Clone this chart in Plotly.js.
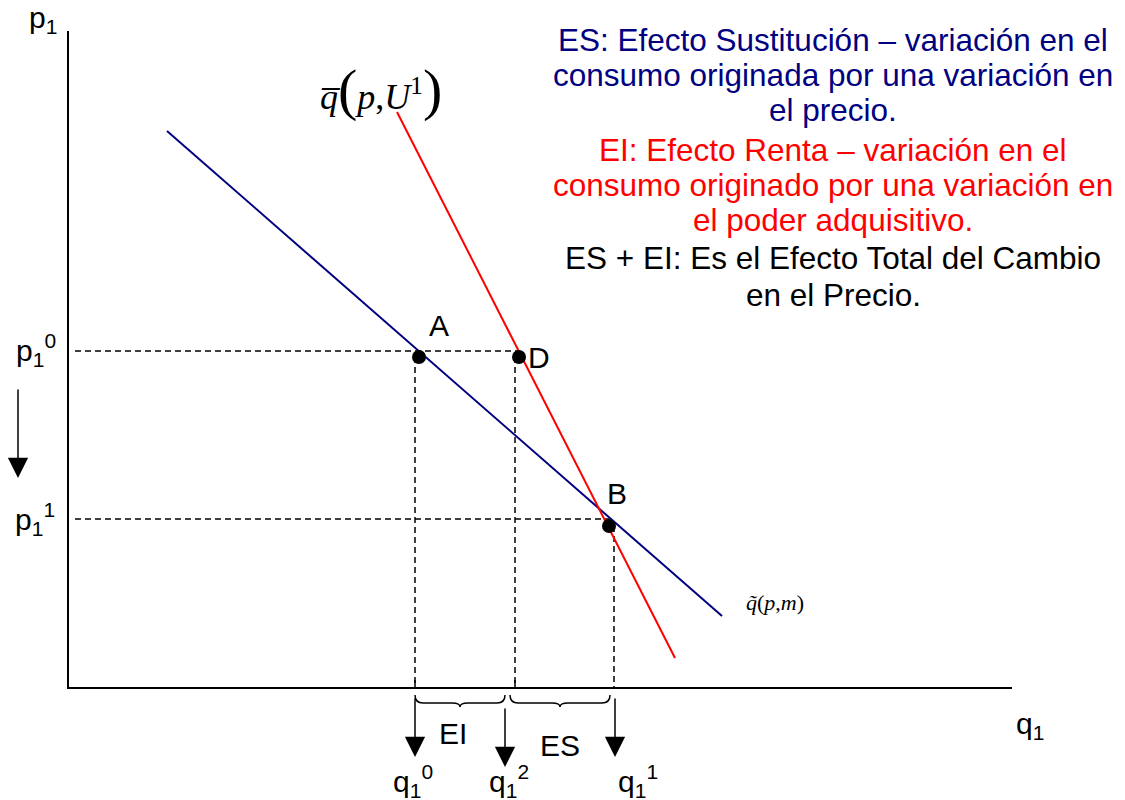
<!DOCTYPE html>
<html>
<head>
<meta charset="utf-8">
<script src="https://cdn.plot.ly/plotly-3.0.1.min.js"></script>
<style>
  html, body { margin: 0; padding: 0; background: #ffffff; }
  #chart { width: 1125px; height: 800px; }
</style>
</head>
<body>
<div id="chart"></div>
<script>
// Quantity (q1) and price (p1) in diagram units; origin at the axes corner.
const axisQ = [0, 0, 944];
const axisP = [657, 0, 0];

// Ordinary (Marshallian) demand q~(p,m)
const marshallQ = [99, 654];
const marshallP = [557, 72];

// Compensated (Hicksian) demand q-(p,U1)
const hicksQ = [329, 607];
const hicksP = [576, 30];

// Price levels p1^0 (initial) and p1^1 (after the fall)
const priceLevels = [337, 169];
// Quantity levels q1^0, q1^2, q1^1
const qLevels = [347, 447, 546];
// Where each quantity arrow is drawn below the axis
const arrowQ = [347, 437, 547];
const qLabels = ['q<sub>1</sub><sup>0</sup>', 'q<sub>1</sub><sup>2</sup>', 'q<sub>1</sub><sup>1</sup>'];

// Equilibrium points A, D, B
const pointNames = ['A', 'D', 'B'];
const pointQ = [351, 451, 541];
const pointP = [331, 331, 162];

// Braces marking the income (EI) and substitution (ES) effects
const braceNames = ['EI', 'ES'];
const braceStart = [347, 442];
const braceEnd = [437, 542];

const NAVY = '#000080';
const RED = '#ff0000';
const SANS = 'Liberation Sans, Arial, sans-serif';
const SERIF = 'Liberation Serif, Times New Roman, serif';
const LABEL_SIZE = 30;

const traces = [];

// axes
traces.push({ x: axisQ, y: axisP, mode: 'lines', line: { color: '#000', width: 2 }, hoverinfo: 'skip' });

// small ticks above the horizontal axis at q1^0 and q1^2
traces.push({
  x: [qLevels[0], qLevels[0], null, qLevels[1], qLevels[1]],
  y: [0, 8, null, 0, 8],
  mode: 'lines', line: { color: '#000', width: 1.5 }, hoverinfo: 'skip'
});

// dashed guide lines
const dashX = [], dashY = [];
dashX.push(7, pointQ[1], null); dashY.push(priceLevels[0], priceLevels[0], null);
dashX.push(7, pointQ[2], null); dashY.push(priceLevels[1], priceLevels[1], null);
for (let i = 0; i < qLevels.length; i++) {
  const top = i < 2 ? pointP[i] : pointP[2];
  dashX.push(qLevels[i], qLevels[i], null);
  dashY.push(top, 0, null);
}
traces.push({ x: dashX, y: dashY, mode: 'lines', line: { color: '#000', width: 1.5, dash: '6px,4px' }, hoverinfo: 'skip' });

// demand curves
traces.push({ x: marshallQ, y: marshallP, mode: 'lines', line: { color: NAVY, width: 2 }, hoverinfo: 'skip' });
traces.push({ x: hicksQ, y: hicksP, mode: 'lines', line: { color: RED, width: 2 }, hoverinfo: 'skip' });

// points
traces.push({ x: pointQ, y: pointP, mode: 'markers', marker: { color: '#000', size: 14 }, hoverinfo: 'skip' });

// braces as paths
function bracePath(a, b) {
  const y0 = -7, y1 = -15, y2 = -19, r = 8;
  const m = (a + b) / 2;
  return `M${a},${y0} Q${a},${y1} ${a + r},${y1} L${m - r},${y1} Q${m},${y1} ${m},${y2} ` +
         `Q${m},${y1} ${m + r},${y1} L${b - r},${y1} Q${b},${y1} ${b},${y0}`;
}
const shapes = braceNames.map((_, i) => ({
  type: 'path', xref: 'x', yref: 'y',
  path: bracePath(braceStart[i], braceEnd[i]),
  line: { color: '#000', width: 1.5 }
}));

const annotations = [];
function label(x, y, text, size, color, family, extra) {
  annotations.push(Object.assign({
    x: x, y: y, xref: 'x', yref: 'y', text: text, showarrow: false,
    font: { size: size, color: color || '#000', family: family || SANS },
    xanchor: 'center', yanchor: 'middle'
  }, extra || {}));
}
function arrow(xTip, yTip, yTail) {
  annotations.push({
    x: xTip, y: yTip, ax: xTip, ay: yTail,
    xref: 'x', yref: 'y', axref: 'x', ayref: 'y',
    text: '', showarrow: true, arrowhead: 2, arrowsize: 2.7, arrowwidth: 1.5,
    arrowcolor: '#000', standoff: 0
  });
}

// axis titles
label(-25, 669, 'p<sub>1</sub>', LABEL_SIZE);
label(962, -37, 'q<sub>1</sub>', LABEL_SIZE);

// price labels
label(-32, 338, 'p<sub>1</sub><sup>0</sup>', LABEL_SIZE);
label(-33, 169, 'p<sub>1</sub><sup>1</sup>', LABEL_SIZE);

// price-fall arrow
arrow(-50, 210, 300);

// quantity arrows and labels
const arrowTail = [-9, -19, -9];
const arrowTip = [-69, -79, -69];
const qLabelX = [345, 441, 570];
for (let i = 0; i < arrowQ.length; i++) {
  arrow(arrowQ[i], arrowTip[i], arrowTail[i]);
  label(qLabelX[i], -93, qLabels[i], LABEL_SIZE);
}

// effect braces labels
label(385, -45, braceNames[0], LABEL_SIZE);
label(492, -57, braceNames[1], LABEL_SIZE);

// point labels
const pointLabelDX = [20, 20, 8];
const pointLabelDY = [32, 0, 33];
for (let i = 0; i < pointNames.length; i++) {
  label(pointQ[i] + pointLabelDX[i], pointP[i] + pointLabelDY[i], pointNames[i], LABEL_SIZE);
}

// curve labels
label(313, 599, '<i>q\u0305</i><span style="font-size:58px">(</span><i>p</i>,<i>U</i><sup>1</sup><span style="font-size:58px">)</span>', 36, '#000', SERIF);
label(707, 86, '<i>q\u0303</i>(<i>p</i>,<i>m</i>)', 22, '#000', SERIF);

// explanatory text
const notes = [
  ['ES: Efecto Sustitución – variación en el', NAVY, 40],
  ['consumo originada por una variación en', NAVY, 75],
  ['el precio.', NAVY, 110],
  ['EI: Efecto Renta – variación en el', RED, 150],
  ['consumo originado por una variación en', RED, 185],
  ['el poder adquisitivo.', RED, 220],
  ['ES + EI: Es el Efecto Total del Cambio', '#000', 258],
  ['en el Precio.', '#000', 295]
];
notes.forEach(n => label(833 - 68, 688 - n[2], n[0], 31.5, n[1]));

const layout = {
  width: 1125, height: 800, autosize: false,
  margin: { l: 0, r: 0, t: 0, b: 0, pad: 0 },
  paper_bgcolor: '#ffffff', plot_bgcolor: '#ffffff',
  showlegend: false,
  xaxis: { range: [-68, 1057], visible: false, fixedrange: true },
  yaxis: { range: [-112, 688], visible: false, fixedrange: true },
  shapes: shapes,
  annotations: annotations
};

Plotly.newPlot('chart', traces, layout, { staticPlot: true, displayModeBar: false });
</script>
</body>
</html>
